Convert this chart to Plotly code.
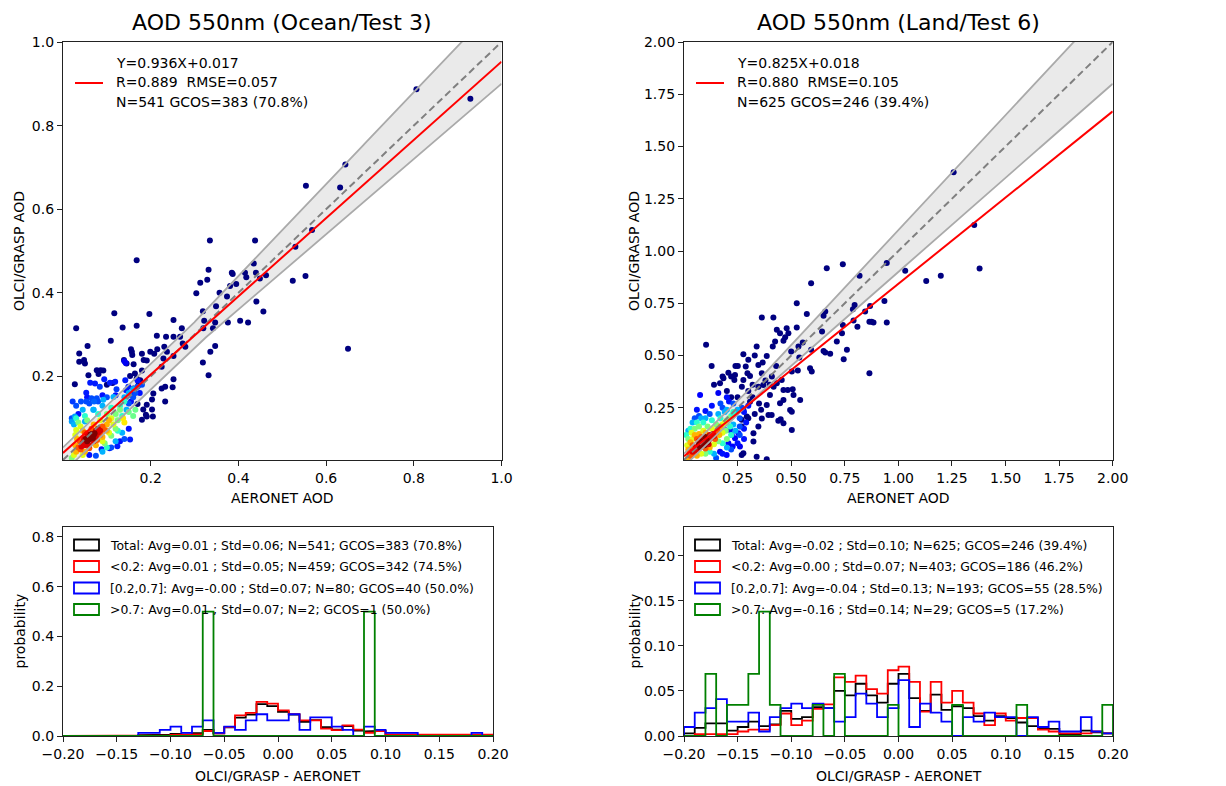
import numpy as np
import plotly.graph_objects as go

# ----------------------------------------------------------------- data
titles = ["AOD 550nm (Ocean/Test 3)", "AOD 550nm (Land/Test 6)"]
fit_slope = [0.936, 0.825]
fit_intercept = [0.017, 0.018]
fit_text = [["Y=0.936X+0.017", "R=0.889  RMSE=0.057", "N=541 GCOS=383 (70.8%)"],
            ["Y=0.825X+0.018", "R=0.880  RMSE=0.105", "N=625 GCOS=246 (39.4%)"]]
gcos_abs = 0.03
gcos_rel = 0.10
scatter_max = [1.0, 2.0]
scatter_ticks = [[0.2, 0.4, 0.6, 0.8, 1.0],
                 [0.25, 0.50, 0.75, 1.00, 1.25, 1.50, 1.75, 2.00]]

# Ocean scatter (AERONET x, OLCI/GRASP y, point density 0..1)
ocean_x = [0.929,0.806,0.644,0.554,0.632,0.568,0.650,0.553,0.524,0.530,
           0.438,0.335,0.332,0.435,0.415,0.418,0.440,0.463,0.449,0.385,
           0.387,0.395,0.381,0.357,0.374,0.329,0.313,0.304,0.441,0.457,
           0.404,0.422,0.376,0.349,0.347,0.342,0.320,0.322,0.319,0.336,
           0.347,0.319,0.332,0.252,0.271,0.267,0.273,0.279,0.252,0.235,
           0.231,0.237,0.252,0.229,0.214,0.199,0.208,0.215,0.225,0.252,
           0.250,0.233,0.225,0.233,0.206,0.203,0.191,0.189,0.205,0.203,
           0.168,0.197,0.168,0.136,0.117,0.109,0.139,0.145,0.157,0.158,
           0.155,0.161,0.184,0.180,0.191,0.164,0.180,0.176,0.153,0.168,
           0.172,0.161,0.157,0.144,0.149,0.142,0.183,0.180,0.170,0.191,
           0.153,0.124,0.106,0.088,0.119,0.107,0.122,0.094,0.086,0.092,
           0.077,0.081,0.084,0.073,0.062,0.053,0.058,0.037,0.048,0.037,
           0.056,0.050,0.030,0.027,0.022,0.041,0.053,0.027,0.020,0.065,
           0.077,0.071,0.100,0.113,0.143,0.140]
ocean_y = [0.864,0.887,0.707,0.656,0.652,0.550,0.266,0.440,0.429,0.510,
           0.525,0.525,0.455,0.470,0.448,0.437,0.448,0.442,0.434,0.448,
           0.445,0.421,0.416,0.400,0.391,0.431,0.424,0.399,0.379,0.355,
           0.333,0.329,0.329,0.368,0.329,0.315,0.315,0.333,0.356,0.259,
           0.273,0.233,0.203,0.335,0.315,0.295,0.279,0.271,0.295,0.295,
           0.271,0.259,0.249,0.243,0.297,0.259,0.254,0.265,0.223,0.193,
           0.174,0.175,0.171,0.140,0.159,0.145,0.132,0.108,0.104,0.121,
           0.478,0.349,0.321,0.317,0.351,0.285,0.239,0.231,0.259,0.251,
           0.265,0.229,0.239,0.254,0.238,0.207,0.214,0.191,0.201,0.195,
           0.179,0.171,0.156,0.167,0.175,0.191,0.121,0.096,0.134,0.104,
           0.049,0.033,0.028,0.026,0.187,0.185,0.169,0.193,0.215,0.214,
           0.215,0.206,0.175,0.183,0.185,0.161,0.203,0.235,0.239,0.255,
           0.273,0.231,0.315,0.181,0.140,0.140,0.140,0.104,0.092,0.148,
           0.148,0.140,0.180,0.184,0.232,0.236]
ocean_d = [0,0,0,0,0,0,0,0,0,0, 0,0,0,0,0,0,0,0,0,0, 0,0,0,0,0,0,0,0,0,0,
           0,0,0,0,0,0,0,0,0,0, 0,0,0,0,0,0,0,0,0,0, 0,0,0,0,0,0,0,0,0,0,
           0,0,0,0,0,0,0,0,0,0, 0,0,0,0,0,0,0,0,0,0, 0,0,0,0,0,0,0,0,0,0,
           0,0,0.15,0.15,0.15,0.15,0,0,0,0,
           0.15,0.15,0.15,0.15,0.15,0.15,0.18,0.15,0,0,
           0,0,0.18,0.15,0.15,0.15,0,0,0,0,
           0,0,0,0,0.18,0.2,0.2,0.28,0.28,0.2,
           0.2,0.22,0,0,0.1,0.1]
ocean_core_x = [0.055,0.06,0.065,0.07,0.062,0.058,0.068,0.064,0.072,0.052,
                0.045,0.05,0.075,0.08,0.075,0.048,0.055,0.07,0.08,0.085,0.06,0.042,
                0.04,0.038,0.09,0.085,0.05,0.065,0.078,0.095,0.035,0.06,
                0.03,0.032,0.1,0.09,0.045,0.07,0.1,0.028,0.05,0.075,0.105,0.137,0.14,
                0.025,0.028,0.11,0.105,0.04,0.085,0.115,0.045,0.09,0.03,
                0.12,0.125,0.12,0.11,0.035,0.055,0.1,0.02,0.13,0.095,0.15,0.165,0.16,
                0.13,0.135,0.125,0.03,0.05,0.08,0.11,0.14,0.1,
                0.14,0.145,0.025,0.045,0.07,0.09,0.15,0.135,0.12,0.09,0.16,
                0.05,0.069,0.092,0.115,
                0.02,0.03,0.06,0.08,0.1,0.15,0.16,0.17,0.14,0.11,0.075,0.165,0.18,
                0.035,0.055,0.09,0.12,0.17,0.175,0.155,0.15,0.13,0.06]
ocean_core_y = [0.045,0.05,0.055,0.06,0.058,0.048,0.052,0.062,0.064,0.05,
                0.04,0.035,0.07,0.065,0.055,0.05,0.062,0.045,0.075,0.07,0.035,0.032,
                0.025,0.045,0.08,0.06,0.065,0.075,0.048,0.072,0.03,0.028,
                0.02,0.05,0.085,0.055,0.07,0.085,0.07,0.035,0.02,0.035,0.095,0.1,0.09,
                0.012,0.06,0.1,0.065,0.08,0.095,0.085,0.012,0.045,0.072,
                0.11,0.095,0.075,0.058,0.09,0.095,0.11,0.005,0.12,0.04,0.115,0.12,0.105,
                0.13,0.105,0.07,0.1,0.105,0.11,0.125,0.14,0.03,
                0.15,0.12,0.085,0.12,0.12,0.13,0.16,0.065,0.045,0.02,0.17,
                0.092,0.12,0.144,0.151,
                0.1,0.13,0.135,0.14,0.15,0.135,0.15,0.175,0.05,0.03,0.01,0.16,0.18,
                0.11,0.15,0.155,0.155,0.19,0.16,0.14,0.075,0.045,0.012]
ocean_core_d = ([1.0] * 10 + [0.92] * 12 + [0.82] * 10 + [0.72] * 11 + [0.66] * 2 +
                [0.62] * 10 + [0.5] * 10 + [0.48] * 3 + [0.4] * 9 + [0.3] * 11 + [0.3] * 4 +
                [0.2] * 13 + [0.14] * 10)

# Land scatter
land_x = [1.379,1.354,1.198,1.130,1.032,1.258,0.946,0.946,0.935,0.741,
          0.666,0.819,0.593,0.526,0.573,0.788,0.796,0.868,0.845,0.865,
          0.884,0.875,0.809,0.791,0.760,0.745,0.713,0.741,0.737,0.651,
          0.659,0.644,0.651,0.659,0.682,0.865,0.593,0.588,0.596,0.554,
          0.534,0.526,0.487,0.472,0.448,0.433,0.464,0.479,0.425,0.500,
          0.538,0.531,0.503,0.507,0.484,0.511,0.542,0.495,0.503,0.503,
          0.456,0.433,0.464,0.464,0.448,0.451,0.464,0.440,0.418,0.401,
          0.409,0.394,0.386,0.414,0.339,0.347,0.367,0.363,0.370,0.347,
          0.386,0.363,0.417,0.363,0.347,0.324,0.324,0.339,0.386,0.296,
          0.288,0.308,0.277,0.277,0.251,0.238,0.235,0.207,0.184,0.168,
          0.129,0.103,0.075,0.308,0.277,0.293,0.269,0.269,0.254,0.238,
          0.261,0.269,0.277,0.227,0.207,0.199,0.168,0.223,0.215,0.191,
          0.160,0.200,0.220,0.250,0.300,0.320,0.350,0.300,0.330,0.360,
          0.320,0.270,0.140,0.180,0.220,0.240,0.300,0.330,0.410,0.430,
          0.380,0.400]
land_y = [0.916,1.125,0.881,0.857,0.905,1.377,0.942,0.658,0.761,0.937,
          0.918,0.881,0.846,0.750,0.699,0.721,0.742,0.737,0.710,0.662,
          0.658,0.662,0.638,0.667,0.527,0.482,0.567,0.646,0.607,0.690,
          0.710,0.615,0.522,0.514,0.508,0.415,0.527,0.439,0.423,0.562,
          0.543,0.634,0.607,0.587,0.607,0.623,0.571,0.630,0.567,0.519,
          0.490,0.428,0.423,0.338,0.335,0.311,0.287,0.239,0.231,0.144,
          0.383,0.367,0.335,0.287,0.271,0.195,0.176,0.188,0.351,0.311,
          0.215,0.215,0.263,0.543,0.543,0.455,0.466,0.415,0.359,0.351,
          0.498,0.682,0.682,0.199,0.160,0.088,0.128,0.016,0.003,0.415,
          0.447,0.402,0.506,0.383,0.450,0.407,0.383,0.418,0.391,0.367,
          0.450,0.551,0.311,0.279,0.239,0.208,0.192,0.160,0.128,0.104,
          0.064,0.024,0.032,0.064,0.080,0.024,0.040,0.120,0.144,0.144,
          0.320,0.330,0.300,0.300,0.330,0.300,0.270,0.200,0.220,0.240,
          0.360,0.350,0.360,0.400,0.400,0.450,0.480,0.500,0.400,0.450,
          0.380,0.360]
land_d = [0,0,0,0,0,0,0,0,0,0, 0,0,0,0,0,0,0,0,0,0, 0,0,0,0,0,0,0,0,0,0,
          0,0,0,0,0,0,0,0,0,0, 0,0,0,0,0,0,0,0,0,0, 0,0,0,0,0,0,0,0,0,0,
          0,0,0,0,0,0,0,0,0,0, 0,0,0,0,0,0,0,0,0,0, 0,0,0,0,0,0,0,0,0,0,
          0,0,0,0,0,0,0,0,0,0,
          0,0,0.12,0,0,0,0,0,0.12,0.12,
          0.1,0,0,0.12,0.12,0.12,0.1,0.15,0.15,0.15,
          0.1,0,0,0,0,0,0,0,0,0, 0,0,0,0,0,0,0,0,0,0, 0,0]
land_core_x = [0.08,0.09,0.1,0.085,0.095,0.075,0.105,0.11,0.07,0.1,
               0.06,0.065,0.12,0.12,0.13,0.05,0.07,0.09,0.115,0.055,0.04,0.135,0.14,
               0.045,0.035,0.15,0.145,0.06,0.08,0.03,0.1,0.155,0.04,0.025,
               0.02,0.05,0.07,0.16,0.165,0.03,0.12,0.17,0.02,0.06,0.1,
               0.04,0.09,0.18,0.18,0.14,0.015,0.035,0.13,0.19,0.08,
               0.05,0.11,0.2,0.195,0.16,0.02,0.07,0.15,0.21,0.1,0.2,
               0.03,0.09,0.22,0.215,0.18,0.13,0.17,0.06,0.12,0.23,0.01,0.22,
               0.04,0.1,0.24,0.23,0.2,0.16,0.19,0.08,0.14,0.25,0.24,0.2,0.02,
               0.05,0.12,0.26,0.26,0.22,0.18,0.27,0.15,0.26,0.23,0.07,0.17,
               0.06,0.1,0.28,0.28,0.25,0.21,0.29,0.18,0.3,0.2,0.28,0.13]
land_core_y = [0.07,0.08,0.09,0.09,0.07,0.06,0.1,0.085,0.075,0.11,
               0.05,0.065,0.1,0.12,0.11,0.045,0.09,0.1,0.075,0.06,0.04,0.125,0.115,
               0.03,0.05,0.13,0.1,0.1,0.11,0.02,0.055,0.14,0.07,0.035,
               0.01,0.12,0.125,0.15,0.12,0.085,0.06,0.16,0.05,0.02,0.13,
               0.1,0.14,0.17,0.13,0.075,0.07,0.13,0.15,0.18,0.03,
               0.15,0.16,0.19,0.14,0.09,0.1,0.16,0.17,0.2,0.03,0.1,
               0.15,0.18,0.21,0.16,0.08,0.19,0.2,0.18,0.04,0.23,0.12,0.12,
               0.18,0.2,0.22,0.17,0.06,0.22,0.23,0.2,0.03,0.24,0.14,0.24,0.14,
               0.2,0.22,0.2,0.16,0.05,0.25,0.25,0.01,0.12,0.27,0.21,0.27,
               0.24,0.235,0.23,0.15,0.08,0.28,0.18,0.03,0.26,0.3,0.1,0.26]
land_core_d = ([1.0] * 10 + [0.92] * 13 + [0.82] * 11 + [0.72] * 11 + [0.62] * 10 +
               [0.5] * 11 + [0.4] * 12 + [0.3] * 13 + [0.2] * 12 + [0.14] * 12)

# Histograms: 40 bins of 0.01 from -0.20 to 0.20
hist_lo, hist_w = -0.20, 0.01
ocean_total = [0,0,0,0,0,0,0,0.0035,0.0035,0.0054,0.0089,0.0052,0.0115,0.025,0.011,0.035,
               0.074,0.086,0.128,0.12,0.097,0.086,0.057,0.064,0.036,0.026,0.04,0.022,0.018,
               0.021,0.006,0.006,0.005,0.002,0.002,0.0035,0.0035,0.002,0.005,0.004]
ocean_low = [0,0,0,0,0,0,0,0.002,0.002,0.002,0.004,0.004,0.007,0.02,0.011,0.036,
             0.083,0.093,0.137,0.13,0.103,0.088,0.063,0.063,0.03,0.024,0.043,0.026,0.013,
             0.02,0.005,0.005,0.004,0.002,0.002,0.004,0.004,0.002,0.004,0.005]
ocean_mid = [0,0,0,0,0,0,0,0.0125,0.0125,0.025,0.0375,0.0125,0.0375,0.0625,0.0125,0.0375,
             0.025,0.0625,0.0875,0.0625,0.0625,0.0875,0.025,0.075,0.075,0.0375,0.025,0,0.0375,
             0.025,0.0125,0.0125,0.0125,0,0,0,0,0,0.0125,0]
ocean_high = [0,0,0,0,0,0,0,0,0,0,0,0,0,0.5,0,0,0,0,0,0,0,0,0,0,0,0,0,0,0.5,0,
              0,0,0,0,0,0,0,0,0,0]
land_total = [0.003,0.009,0.014,0.014,0.006,0.010,0.016,0.011,0.013,0.028,0.019,0.021,0.032,
              0.031,0.050,0.045,0.058,0.045,0.037,0.058,0.069,0.042,0.028,0.046,0.029,0.033,
              0.031,0.022,0.017,0.022,0.020,0.015,0.011,0.008,0.008,0.002,0.002,0.006,0.004,0.003]
land_low = [0.0,0.002,0.002,0.002,0.002,0.005,0.007,0.007,0.012,0.025,0.012,0.017,0.030,
            0.035,0.065,0.060,0.067,0.052,0.047,0.073,0.077,0.060,0.027,0.060,0.037,0.050,
            0.037,0.025,0.012,0.025,0.017,0.020,0.020,0.007,0.005,0.003,0.003,0.003,0.005,0.003]
land_mid = [0.010,0.026,0.031,0.041,0.016,0.016,0.026,0.005,0.021,0.031,0.036,0.031,0.036,
            0.031,0.016,0.021,0.047,0.036,0.021,0.031,0.062,0.010,0.036,0.026,0.016,0.0,
            0.021,0.016,0.026,0.021,0.021,0.0,0.021,0.010,0.016,0.005,0.005,0.021,0.005,0.003]
land_high = [0,0,0.069,0,0.0345,0.0345,0.069,0.138,0.0345,0,0,0,0.0345,0,0.069,0,0,0,0,
             0.0345,0,0,0,0,0,0.0345,0,0,0,0,0,0.0345,0,0,0,0,0,0,0,0.0345]

hist_colors = ["black", "red", "blue", "green"]
ocean_labels = ["Total: Avg=0.01 ; Std=0.06; N=541; GCOS=383 (70.8%)",
                "&lt;0.2: Avg=0.01 ; Std=0.05; N=459; GCOS=342 (74.5%)",
                "[0.2,0.7]: Avg=-0.00 ; Std=0.07; N=80; GCOS=40 (50.0%)",
                "&gt;0.7: Avg=0.01 ; Std=0.07; N=2; GCOS=1 (50.0%)"]
land_labels = ["Total: Avg=-0.02 ; Std=0.10; N=625; GCOS=246 (39.4%)",
               "&lt;0.2: Avg=0.00 ; Std=0.07; N=403; GCOS=186 (46.2%)",
               "[0.2,0.7]: Avg=-0.04 ; Std=0.13; N=193; GCOS=55 (28.5%)",
               "&gt;0.7: Avg=-0.16 ; Std=0.14; N=29; GCOS=5 (17.2%)"]
hist_xticks = [-0.20, -0.15, -0.10, -0.05, 0.00, 0.05, 0.10, 0.15, 0.20]

assert len(ocean_x) == len(ocean_y) == len(ocean_d)
assert len(ocean_core_x) == len(ocean_core_y) == len(ocean_core_d)
assert len(land_x) == len(land_y) == len(land_d)
assert len(land_core_x) == len(land_core_y) == len(land_core_d)

# ----------------------------------------------------------------- layout helpers
W, H = 1226, 786
FONT = "DejaVu Sans"
def fx(p): return p / W
def fy(p): return 1 - p / H

jet = [[0.0, "rgb(0,0,128)"], [0.11, "rgb(0,0,255)"], [0.125, "rgb(0,0,255)"],
       [0.34, "rgb(0,219,255)"], [0.35, "rgb(0,229,247)"], [0.375, "rgb(21,255,226)"],
       [0.64, "rgb(238,255,8)"], [0.65, "rgb(247,246,0)"], [0.66, "rgb(255,236,0)"],
       [0.89, "rgb(255,19,0)"], [0.91, "rgb(232,0,0)"], [1.0, "rgb(128,0,0)"]]

sc_dom = [((63, 501.5), (42, 460)), ((684, 1112.7), (42, 460))]
hi_dom = [((63, 493), (527, 736)), ((684, 1113), (527, 736))]
ytitle_off = [44, 50]

fig = go.Figure()
annotations = []
shapes = []

scatter_sets = [(ocean_x + ocean_core_x, ocean_y + ocean_core_y, ocean_d + ocean_core_d),
                (land_x + land_core_x, land_y + land_core_y, land_d + land_core_d)]

for k in range(2):
    xa, ya = ("x", "y") if k == 0 else ("x2", "y2")
    m = scatter_max[k]
    xs = np.linspace(0, m, 401)
    half = np.maximum(gcos_abs, gcos_rel * xs)
    up, lo = xs + half, xs - half
    fig.add_trace(go.Scatter(x=np.concatenate([xs, xs[::-1]]), y=np.concatenate([up, lo[::-1]]),
                             fill="toself", fillcolor="rgb(234,234,234)", mode="lines",
                             line=dict(width=0), xaxis=xa, yaxis=ya, hoverinfo="skip"))
    px_, py_, pd_ = (np.array(a, dtype=float) for a in scatter_sets[k])
    order = np.argsort(pd_, kind="stable")
    fig.add_trace(go.Scatter(x=px_[order], y=py_[order], mode="markers",
                             marker=dict(size=6, color=pd_[order], colorscale=jet, cmin=0, cmax=1,
                                         line=dict(width=0)),
                             xaxis=xa, yaxis=ya))
    for arr in (up, lo):
        fig.add_trace(go.Scatter(x=xs, y=arr, mode="lines", line=dict(color="rgb(170,170,170)", width=1.8),
                                 xaxis=xa, yaxis=ya))
    fig.add_trace(go.Scatter(x=[0, m], y=[0, m], mode="lines",
                             line=dict(color="rgb(128,128,128)", width=2, dash="7px,4px"),
                             xaxis=xa, yaxis=ya))
    fig.add_trace(go.Scatter(x=[0, m], y=[fit_intercept[k], fit_intercept[k] + fit_slope[k] * m],
                             mode="lines", line=dict(color="red", width=2), xaxis=xa, yaxis=ya))

    (x0, x1), (y0, y1) = sc_dom[k]
    annotations.append(dict(text=titles[k], x=fx((x0 + x1) / 2), y=fy(23), xref="paper", yref="paper",
                            showarrow=False, font=dict(size=22, family=FONT, color="black"),
                            xanchor="center", yanchor="middle"))
    annotations.append(dict(text="AERONET AOD", x=fx((x0 + x1) / 2), y=fy(498), xref="paper",
                            yref="paper", showarrow=False, font=dict(size=14, family=FONT, color="black"),
                            xanchor="center", yanchor="middle"))
    annotations.append(dict(text="OLCI/GRASP AOD", x=fx(x0 - ytitle_off[k]), y=fy((y0 + y1) / 2),
                            xref="paper", yref="paper", showarrow=False, textangle=-90,
                            font=dict(size=14, family=FONT, color="black"),
                            xanchor="center", yanchor="middle"))
    # legend of the fit line
    lx = x0 + 12
    shapes.append(dict(type="line", xref="paper", yref="paper", x0=fx(lx), x1=fx(lx + 28),
                       y0=fy(83), y1=fy(83), line=dict(color="red", width=2)))
    for j, t in enumerate(fit_text[k]):
        annotations.append(dict(text=t, x=fx(lx + 39), y=fy(63 + 19.5 * j), xref="paper", yref="paper",
                                showarrow=False, font=dict(size=14, family=FONT, color="black"),
                                xanchor="left", yanchor="middle"))

hist_sets = [[ocean_total, ocean_low, ocean_mid, ocean_high],
             [land_total, land_low, land_mid, land_high]]
hist_labels = [ocean_labels, land_labels]
edges = np.round(hist_lo + hist_w * np.arange(41), 2)

for k in range(2):
    xa, ya = ("x3", "y3") if k == 0 else ("x4", "y4")
    for s, h in enumerate(hist_sets[k]):
        sx, sy = [edges[0]], [0.0]
        for i, v in enumerate(h):
            sx += [edges[i], edges[i + 1]]
            sy += [v, v]
        sx.append(edges[-1]); sy.append(0.0)
        fig.add_trace(go.Scatter(x=sx, y=sy, mode="lines", line=dict(color=hist_colors[s], width=1.8),
                                 xaxis=xa, yaxis=ya))
    (x0, x1), (y0, y1) = hi_dom[k]
    annotations.append(dict(text="OLCI/GRASP - AERONET", x=fx((x0 + x1) / 2), y=fy(776), xref="paper",
                            yref="paper", showarrow=False, font=dict(size=14, family=FONT, color="black"),
                            xanchor="center", yanchor="middle"))
    annotations.append(dict(text="probability", x=fx(x0 - ytitle_off[k]), y=fy((y0 + y1) / 2),
                            xref="paper", yref="paper", showarrow=False, textangle=-90,
                            font=dict(size=14, family=FONT, color="black"),
                            xanchor="center", yanchor="middle"))
    bx = x0 + 11
    for s in range(4):
        cy = 545 + 21.5 * s
        shapes.append(dict(type="rect", xref="paper", yref="paper", x0=fx(bx), x1=fx(bx + 25),
                           y0=fy(cy + 5.5), y1=fy(cy - 5.5), line=dict(color=hist_colors[s], width=1.8)))
        annotations.append(dict(text=hist_labels[k][s], x=fx(bx + 34), y=fy(cy), xref="paper", yref="paper",
                                showarrow=False, font=dict(size=12.4, family=FONT, color="black"),
                                xanchor="left", yanchor="middle"))

axis_common = dict(showgrid=False, zeroline=False, showline=True, mirror=True, linecolor="#222",
                   linewidth=1.2, ticks="outside", ticklen=5, tickwidth=1.2, tickcolor="#222",
                   tickfont=dict(size=14, family=FONT, color="black"), automargin=False)

def ticktxt(vals, fmt):
    return [format(v, fmt).replace("-", "\u2212") for v in vals]

layout = dict(width=W, height=H, margin=dict(l=0, r=0, t=0, b=0), paper_bgcolor="white",
              plot_bgcolor="white", showlegend=False, annotations=annotations, shapes=shapes,
              font=dict(family=FONT, color="black"))
for k in range(2):
    (x0, x1), (y0, y1) = sc_dom[k]
    n = "" if k == 0 else "2"
    fmt = ".1f" if k == 0 else ".2f"
    layout["xaxis" + n] = dict(axis_common, domain=[fx(x0), fx(x1)], range=[0, scatter_max[k]],
                               anchor="y" + n, tickvals=scatter_ticks[k],
                               ticktext=ticktxt(scatter_ticks[k], fmt))
    layout["yaxis" + n] = dict(axis_common, domain=[fy(y1), fy(y0)], range=[0, scatter_max[k]],
                               anchor="x" + n, tickvals=scatter_ticks[k],
                               ticktext=ticktxt(scatter_ticks[k], fmt))
hist_yr = [0.84, 0.232]
hist_yt = [[0.0, 0.2, 0.4, 0.6, 0.8], [0.0, 0.05, 0.10, 0.15, 0.20]]
for k in range(2):
    (x0, x1), (y0, y1) = hi_dom[k]
    n = str(k + 3)
    fmt = ".1f" if k == 0 else ".2f"
    layout["xaxis" + n] = dict(axis_common, domain=[fx(x0), fx(x1)], range=[-0.2, 0.2], anchor="y" + n,
                               tickvals=hist_xticks, ticktext=ticktxt(hist_xticks, ".2f"))
    layout["yaxis" + n] = dict(axis_common, domain=[fy(y1), fy(y0)], range=[0, hist_yr[k]], anchor="x" + n,
                               tickvals=hist_yt[k], ticktext=ticktxt(hist_yt[k], fmt))

fig.update_layout(**layout)
fig.write_html("out.html", config={"displayModeBar": False},
               post_script="document.body.style.margin='0px';document.body.style.overflow='hidden';")
